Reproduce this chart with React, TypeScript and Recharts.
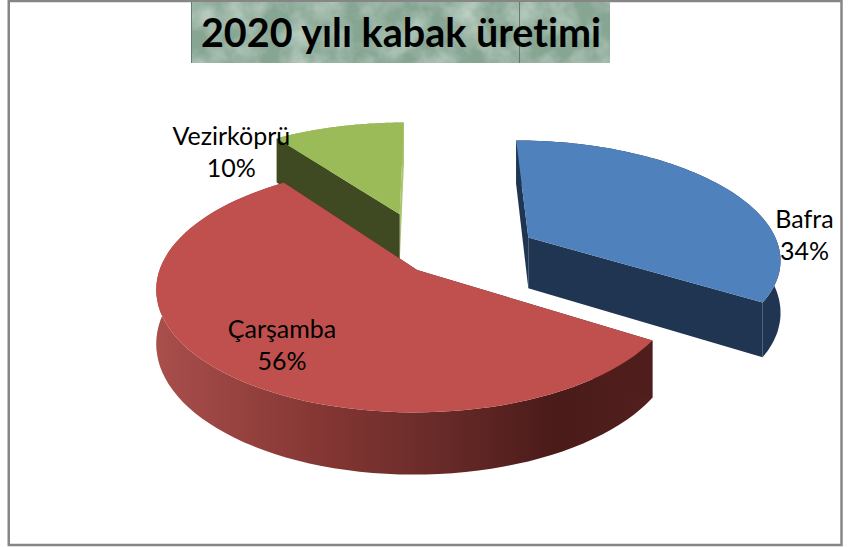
import { Pie, PieChart } from "recharts"

const names = ["Vezirköprü", "Bafra", "Çarşamba"]
const shares = [10, 34, 56]
const data = names.map((name, i) => ({ name, value: shares[i] }))

// slice look, same order as names
const topColors = ["#9BBB59", "#4F81BD", "#C0504D"]
const wallColors = ["#A9C46C", "#1F3552", "url(#redWall)"]
const startFaceColors = ["#3F4A22", "#1F3552", "#4F1E1C"]
const endFaceColors = ["#A9C46C", "#1F3552", "#4F1E1C"]
const explode = [0.45, 0.44, 0.09]
const labelNudge = [
  [-107, 26],
  [80, 49],
  [65, -23],
]

const TILT = 0.465
const DEPTH = 0.205
const PERSPECTIVE = 0.15
const RAD = Math.PI / 180

// x right, z toward the viewer, both in pie radii
function project(cx: number, cy: number, r: number, x: number, z: number, drop = 0) {
  const s = 1 / (1 - PERSPECTIVE * z)
  return [cx + r * x * s, cy + r * TILT * z * s + r * DEPTH * drop * s]
}

function toPath(points: number[][]) {
  return points.map((p, i) => `${i ? "L" : "M"}${p[0].toFixed(1)} ${p[1].toFixed(1)}`).join(" ") + " Z"
}

function sliceParts(props: any) {
  const { cx, cy, outerRadius, startAngle, endAngle, midAngle } = props
  const i = names.indexOf(props.name)
  const e = explode[i]
  const mid = midAngle ?? (startAngle + endAngle) / 2
  const ox = e * Math.cos(mid * RAD)
  const oz = -e * Math.sin(mid * RAD)
  const at = (angle: number, radius: number, drop = 0) =>
    project(cx, cy, outerRadius, ox + radius * Math.cos(angle * RAD), oz - radius * Math.sin(angle * RAD), drop)
  return { i, at, mid }
}

function Slice3D(props: any) {
  const { startAngle, endAngle } = props
  const { i, at } = sliceParts(props)
  const steps = 80
  const rimTop: number[][] = []
  const rimBottom: number[][] = []
  for (let n = 0; n <= steps; n++) {
    const a = startAngle + ((endAngle - startAngle) * n) / steps
    rimTop.push(at(a, 1))
    rimBottom.push(at(a, 1, 1))
  }
  const face = (angle: number) => [at(0, 0), at(angle, 1), at(angle, 1, 1), at(0, 0, 1)]
  return (
    <g>
      <path d={toPath([...rimTop, ...rimBottom.reverse()])} fill={wallColors[i]} />
      <path d={toPath(face(endAngle))} fill={endFaceColors[i]} />
      <path d={toPath(face(startAngle))} fill={startFaceColors[i]} />
      <path d={toPath([at(0, 0), ...rimTop])} fill={topColors[i]} />
    </g>
  )
}

function SliceLabel(props: any) {
  const { i, at, mid } = sliceParts({ ...props, startAngle: 0, endAngle: 0 })
  const [x, y] = at(mid, 1)
  const lx = x + labelNudge[i][0]
  const ly = y + labelNudge[i][1]
  return (
    <text x={lx} textAnchor="middle" fontFamily="Lato" fontSize={25} fill="#000">
      <tspan x={lx} y={ly - 8}>
        {props.name}
      </tspan>
      <tspan x={lx} y={ly + 24}>
        {Math.round(props.percent * 100)}%
      </tspan>
    </text>
  )
}

export default function App() {
  return (
    <div style={{ position: "absolute", left: 0, top: 0, width: 860, height: 547 }}>
      <PieChart width={860} height={547} margin={{ top: 0, right: 0, bottom: 0, left: 0 }}>
        <defs>
          <linearGradient id="redWall" gradientUnits="userSpaceOnUse" x1="160" y1="0" x2="656" y2="0">
            <stop offset="0" stopColor="#A84E4B" />
            <stop offset="0.3" stopColor="#873835" />
            <stop offset="0.55" stopColor="#6A2B29" />
            <stop offset="0.8" stopColor="#4A1B19" />
            <stop offset="1" stopColor="#52201E" />
          </linearGradient>
          <filter id="marble" x="0" y="0" width="100%" height="100%">
            <feTurbulence type="fractalNoise" baseFrequency="0.035" numOctaves={4} seed={7} />
            <feColorMatrix values="0 0 0 0 0.72  0 0 0 0 0.82  0 0 0 0 0.76  1.1 0 0 0 -0.38" />
          </filter>
        </defs>
        <rect x={8.75} y={1} width={832.75} height={544} fill="#fff" stroke="#868686" strokeWidth={2.5} />
        <rect x={191} y={2} width={419} height={61} fill="#87A593" />
        <rect x={191} y={2} width={419} height={61} filter="url(#marble)" />
        <line x1={191.5} y1={2} x2={191.5} y2={63} stroke="#5F7D6B" />
        <line x1={519.5} y1={2} x2={519.5} y2={63} stroke="#5F7D6B" />
        <text
          x={401}
          y={47}
          textAnchor="middle"
          fontFamily="Lato"
          fontWeight={700}
          fontSize={39.5}
          fill="#000"
          style={{ fontVariantLigatures: "none" }}
        >
          2020 yılı kabak üretimi
        </text>
        <Pie
          data={data}
          dataKey="value"
          nameKey="name"
          cx={433}
          cy={262}
          innerRadius={0}
          outerRadius={255}
          startAngle={126}
          endAngle={-234}
          stroke="none"
          shape={Slice3D}
          label={SliceLabel}
          labelLine={false}
          isAnimationActive={false}
        />
      </PieChart>
    </div>
  )
}
